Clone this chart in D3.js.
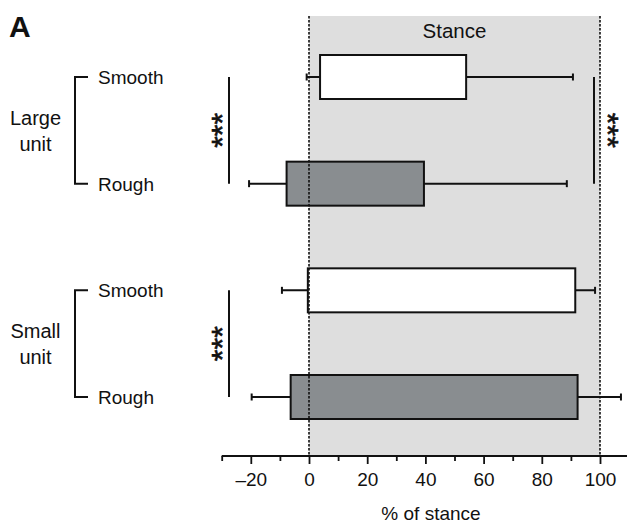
<!DOCTYPE html>
<html>
<head>
<meta charset="utf-8">
<script src="https://cdn.jsdelivr.net/npm/d3@7"></script>
<style>
  body { margin: 0; background: #fff; }
  svg { display: block; }
  text { font-family: "Liberation Sans", Arial, Helvetica, sans-serif; fill: #111; }
</style>
</head>
<body>
<svg id="chart" width="627" height="525"></svg>
<script>
// ---- data ----
const rows = ["Large-Smooth", "Large-Rough", "Small-Smooth", "Small-Rough"];
const surfaceLabels = ["Smooth", "Rough", "Smooth", "Rough"];
const surfaceType = ["smooth", "rough", "smooth", "rough"];
const boxStart = [3.8, -7.7, -0.4, -6.3];
const boxEnd = [54, 39.5, 91.5, 92.3];
const whiskerLow = [-0.8, -20.6, -9.3, -19.7];
const whiskerHigh = [90.7, 88.6, 98.3, 107.2];
const unitGroups = [["Large", "unit"], ["Small", "unit"]];
const unitRows = [[0, 1], [2, 3]];
const majorTicks = [-20, 0, 20, 40, 60, 80, 100];
const minorTicks = [-30, -10, 10, 30, 50, 70, 90];
const stanceRange = [0, 100];
// significance comparisons: [rowA, rowB, side]
const sigComparisons = [[0, 1, "left"], [0, 1, "right"], [2, 3, "left"]];
const sigLabel = "***";

// ---- layout ----
const svg = d3.select("#chart");
const x = d3.scaleLinear().domain([-30, 110]).range([221.7, 629.1]);
const y = d3.scalePoint().domain(rows).range([77, 397]);
const axisY = 456;
const topY = 16;
const boxH = 44;
const fontSize = 19;
const fills = { smooth: "#ffffff", rough: "#898d90" };

// stance background
svg.append("rect")
  .attr("x", x(stanceRange[0])).attr("y", topY)
  .attr("width", x(stanceRange[1]) - x(stanceRange[0]))
  .attr("height", axisY - topY)
  .attr("fill", "#dedede");

svg.append("text")
  .attr("x", (x(stanceRange[0]) + x(stanceRange[1])) / 2)
  .attr("y", 38).attr("text-anchor", "middle")
  .attr("font-size", 20.5).text("Stance");

// boxes and whiskers
const g = svg.append("g");
rows.forEach((r, i) => {
  const cy = y(r);
  g.append("line")
    .attr("x1", x(whiskerLow[i])).attr("x2", x(whiskerHigh[i]))
    .attr("y1", cy).attr("y2", cy)
    .attr("stroke", "#111").attr("stroke-width", 2);
  [whiskerLow[i], whiskerHigh[i]].forEach(v => {
    g.append("line")
      .attr("x1", x(v)).attr("x2", x(v))
      .attr("y1", cy - 3.5).attr("y2", cy + 3.5)
      .attr("stroke", "#111").attr("stroke-width", 2);
  });
  g.append("rect")
    .attr("x", x(boxStart[i])).attr("y", cy - boxH / 2)
    .attr("width", x(boxEnd[i]) - x(boxStart[i]))
    .attr("height", boxH)
    .attr("fill", fills[surfaceType[i]])
    .attr("stroke", "#111").attr("stroke-width", 2);
});

// dotted reference lines
stanceRange.forEach(v => {
  svg.append("line")
    .attr("x1", x(v)).attr("x2", x(v))
    .attr("y1", topY).attr("y2", axisY)
    .attr("stroke", "#111").attr("stroke-width", 1.6)
    .attr("stroke-dasharray", "2.5,1.5");
});

// x axis
const axisG = svg.append("g").attr("transform", `translate(0,${axisY})`);
axisG.append("line")
  .attr("x1", x(-30)).attr("x2", 627)
  .attr("stroke", "#111").attr("stroke-width", 2);
axisG.call(g2 => {
  const major = d3.axisBottom(x).tickValues(majorTicks).tickSize(8)
    .tickFormat(d => d < 0 ? "\u2013" + Math.abs(d) : d);
  const gm = g2.append("g").call(major);
  gm.select(".domain").remove();
  gm.selectAll(".tick line").attr("stroke", "#111").attr("stroke-width", 1.8);
  gm.selectAll(".tick text")
    .attr("font-size", fontSize).attr("dy", "1.0em")
    .attr("font-family", "Liberation Sans, Arial, sans-serif").attr("fill", "#111");
  const minor = d3.axisBottom(x).tickValues(minorTicks).tickSize(5).tickFormat("");
  const gn = g2.append("g").call(minor);
  gn.select(".domain").remove();
  gn.selectAll(".tick line").attr("stroke", "#111").attr("stroke-width", 1.8);
});

svg.append("text")
  .attr("x", 431).attr("y", 520).attr("text-anchor", "middle")
  .attr("font-size", fontSize).text("% of stance");

// row labels and brackets
rows.forEach((r, i) => {
  svg.append("text")
    .attr("x", 98).attr("y", y(r)).attr("dy", "0.36em")
    .attr("font-size", fontSize).text(surfaceLabels[i]);
});
unitGroups.forEach((lbl, k) => {
  const y1 = y(rows[unitRows[k][0]]), y2 = y(rows[unitRows[k][1]]);
  svg.append("path")
    .attr("d", `M88,${y1}H75V${y2}H88`)
    .attr("fill", "none").attr("stroke", "#111").attr("stroke-width", 2);
  const mid = (y1 + y2) / 2;
  lbl.forEach((t, j) => {
    svg.append("text")
      .attr("x", 35.5).attr("y", mid + (j === 0 ? -13 : 13)).attr("dy", "0.36em")
      .attr("text-anchor", "middle").attr("font-size", 20).text(t);
  });
});

// significance bars
sigComparisons.forEach(([a, b, side]) => {
  const y1 = y(rows[a]), y2 = y(rows[b]);
  const lx = side === "left" ? 229 : 594;
  svg.append("line")
    .attr("x1", lx).attr("x2", lx).attr("y1", y1).attr("y2", y2)
    .attr("stroke", "#111").attr("stroke-width", 2);
  const tx = side === "left" ? 232 : 598;
  const mid = (y1 + y2) / 2;
  svg.append("text")
    .attr("transform", `translate(${tx},${mid}) rotate(${side === "left" ? -90 : 90})`)
    .attr("text-anchor", "middle")
    .attr("font-size", 30).attr("stroke", "#111").attr("stroke-width", 0.6)
    .text(sigLabel);
});

// panel letter
svg.append("text")
  .attr("x", 9).attr("y", 37)
  .attr("font-size", 30).attr("font-weight", "bold").text("A");
</script>
</body>
</html>
